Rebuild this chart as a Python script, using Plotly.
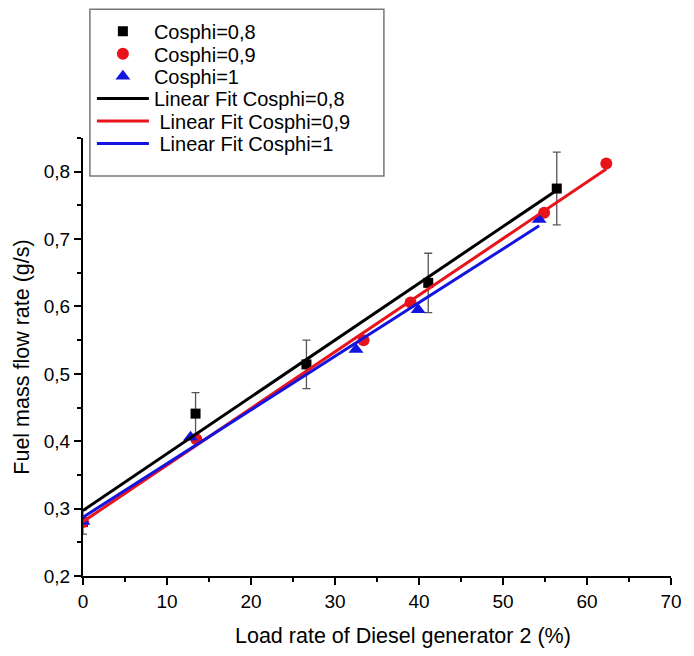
import plotly.graph_objects as go
import numpy as np

# Data
x08 = [0, 13.4, 26.6, 41.1, 56.4]
y08 = [0.280, 0.441, 0.514, 0.635, 0.775]
e08 = [0.018, 0.031, 0.036, 0.044, 0.054]

x09 = [0, 13.5, 33.4, 39.0, 54.9, 62.3]
y09 = [0.280, 0.403, 0.550, 0.606, 0.739, 0.812]

x10 = [0, 12.8, 32.5, 39.9, 54.3]
y10 = [0.281, 0.406, 0.536, 0.595, 0.729]

names = ["Cosphi=0,8", "Cosphi=0,9", "Cosphi=1"]
fit_names = ["Linear Fit Cosphi=0,8", "\u00a0Linear Fit Cosphi=0,9", "\u00a0Linear Fit Cosphi=1"]
colors = ["#000000", "#e8141c", "#1414e0"]
symbols = ["square", "circle", "triangle-up"]
msizes = [10, 12, 13]

x_title = "Load rate of Diesel generator 2 (%)"
y_title = "Fuel mass flow rate (g/s)"

FONT = "Liberation Sans, Arial, sans-serif"

# pixel -> paper helpers (plot area: x 83..679, y 137..576)
def px(xp):
    return (xp - 83) / 596

def py(yp):
    return (576 - yp) / 439

legend_ids = ["legend", "legend2", "legend3", "legend4", "legend5", "legend6"]
legend_rows = [30, 52.5, 75, 97.5, 120, 142.5]

fig = go.Figure()
series = [(x08, y08), (x09, y09), (x10, y10)]

for i, (xs, ys) in enumerate(series):
    kw = {}
    if i == 0:
        kw["error_y"] = dict(type="data", array=e08, visible=True,
                             color="#555555", thickness=1.3, width=4)
    fig.add_trace(go.Scatter(x=xs, y=ys, mode="markers", name=names[i],
                             marker=dict(symbol=symbols[i], size=msizes[i], color=colors[i]),
                             legend=legend_ids[i], **kw))

for i, (xs, ys) in enumerate(series):
    k, b = np.polyfit(xs, ys, 1)
    xf = np.array([min(xs), max(xs)])
    fig.add_trace(go.Scatter(x=xf, y=k * xf + b, mode="lines", name=fit_names[i],
                             line=dict(color=colors[i], width=3),
                             legend=legend_ids[3 + i]))

fig.add_annotation(text=x_title, xref="paper", yref="paper",
                   x=px(407), y=py(636), xanchor="center", yanchor="middle",
                   showarrow=False, font=dict(size=21.5, family=FONT, color="black"))

# legend frame
fig.add_shape(type="rect", xref="paper", yref="paper",
              x0=px(90), x1=px(388), y0=py(175), y1=py(8),
              line=dict(color="#777777", width=1.5), fillcolor="white", layer="above")

legend_style = dict(xanchor="left", yanchor="middle", borderwidth=0,
                    bgcolor="rgba(0,0,0,0)", font=dict(size=20, family=FONT),
                    itemwidth=52)
layout_legends = {}
for lid, row in zip(legend_ids, legend_rows):
    layout_legends[lid] = dict(x=px(92), y=py(row), **legend_style)

fig.update_layout(
    width=694, height=656,
    margin=dict(l=83, r=15, t=137, b=80),
    plot_bgcolor="white", paper_bgcolor="white",
    separators=", ",
    font=dict(family=FONT, color="#000000"),
    showlegend=True,
    xaxis=dict(range=[0, 70], tickvals=[0, 10, 20, 30, 40, 50, 60, 70],
               ticks="outside", ticklen=7, tickwidth=1.5, tickcolor="black",
               minor=dict(dtick=5, ticks="outside", ticklen=4, tickwidth=1.5, tickcolor="black"),
               showline=True, linecolor="black", linewidth=2, showgrid=False, zeroline=False,
               tickfont=dict(size=19)),
    yaxis=dict(range=[0.2, 0.85], tickvals=[0.2, 0.3, 0.4, 0.5, 0.6, 0.7, 0.8], tickformat=".1f",
               ticks="outside", ticklen=7, tickwidth=1.5, tickcolor="black",
               minor=dict(dtick=0.05, tick0=0.2, ticks="outside", ticklen=4, tickwidth=1.5, tickcolor="black"),
               showline=True, linecolor="black", linewidth=2, showgrid=False, zeroline=False,
               tickfont=dict(size=19), title=dict(text=y_title,
                                                  font=dict(size=21.5), standoff=8)),
    **layout_legends,
)

fig.write_html("out.html")
